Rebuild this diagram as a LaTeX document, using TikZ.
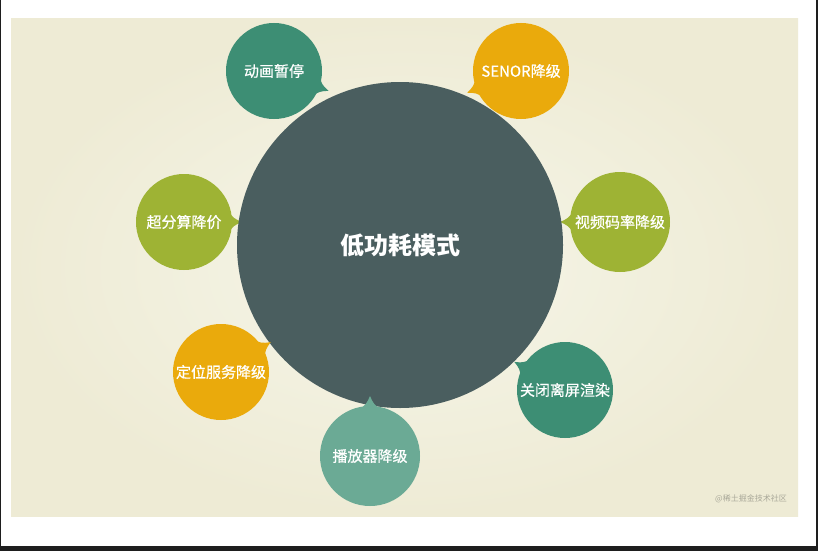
\documentclass[tikz,border=0pt]{standalone}
\usepackage{fontspec}
\setmainfont{Noto Sans CJK SC}
\newfontfamily\bubfont{Noto Sans CJK SC}[FakeBold=0.7]
\usetikzlibrary{calc}
\definecolor{cslate}{HTML}{4A5E5F}
\definecolor{cteal}{HTML}{3D8E74}
\definecolor{corange}{HTML}{EAAA0C}
\definecolor{colive}{HTML}{9EB334}
\definecolor{clteal}{HTML}{6BAA95}
\definecolor{bgin}{HTML}{F6F6E9}
\definecolor{bgout}{HTML}{EEEBD5}
\definecolor{wmark}{HTML}{A9A899}
\definecolor{frame}{HTML}{1E1E1E}
\newcommand\mytail[4]{% node, angle, radius, colour
  \fill[#4] ($(#1)+(#2+15:#3-3)$) .. controls ($(#1)+(#2+4:#3+2)$) .. ($(#1)+(#2:#3+10)$)
    .. controls ($(#1)+(#2-4:#3+2)$) .. ($(#1)+(#2-15:#3-3)$) -- cycle;}
\begin{document}
\begin{tikzpicture}[x=1pt,y=-1pt,
  bub/.style={circle, inner sep=0pt, minimum size=#1, text=white,
    font=\bubfont\fontsize{15}{18}\selectfont},
  core/.style={circle, inner sep=0pt, minimum size=326pt, fill=cslate, text=white,
    font=\bfseries\fontsize{24}{28}\selectfont}]
\useasboundingbox (0,0) rectangle (818,551);
% page
\fill[white] (0,0) rectangle (818,551);
\fill[frame] (0,0) rectangle (1.2,546);
\fill[frame] (816,0) rectangle (818,546);
\fill[frame] (0,546) rectangle (818,551);
% panel
\shade[inner color=bgin, outer color=bgout] (11,19) rectangle (798,516);
% back bubbles
\node[bub=96pt, fill=cteal] (dh) at (274,71) {动画暂停};
\mytail{dh}{20}{48}{cteal}
\node[bub=96pt, fill=corange] (se) at (521,71) {SENOR降级};
\mytail{se}{158}{48}{corange}
\node[bub=96pt, fill=colive] (cf) at (184,222) {超分算降价};
\mytail{cf}{0}{48}{colive}
\node[bub=100pt, fill=colive] (sp) at (620,222) {视频码率降级};
\mytail{sp}{180}{50}{colive}
% core
\node[core] (core) at (400,245) {低功耗模式};
% front bubbles
\node[bub=96pt, fill=corange] (dw) at (221,372) {定位服务降级};
\mytail{dw}{-31}{48}{corange}
\node[bub=96pt, fill=cteal] (gb) at (565,390) {关闭离屏渲染};
\mytail{gb}{209}{48}{cteal}
\node[bub=100pt, fill=clteal] (bf) at (370,456) {播放器降级};
\mytail{bf}{-90}{50}{clteal}
% watermark
\node[text=wmark, font=\fontsize{8}{10}\selectfont, inner sep=0pt] (wm) at (751,499) {@稀土掘金技术社区};
\end{tikzpicture}
\end{document}
